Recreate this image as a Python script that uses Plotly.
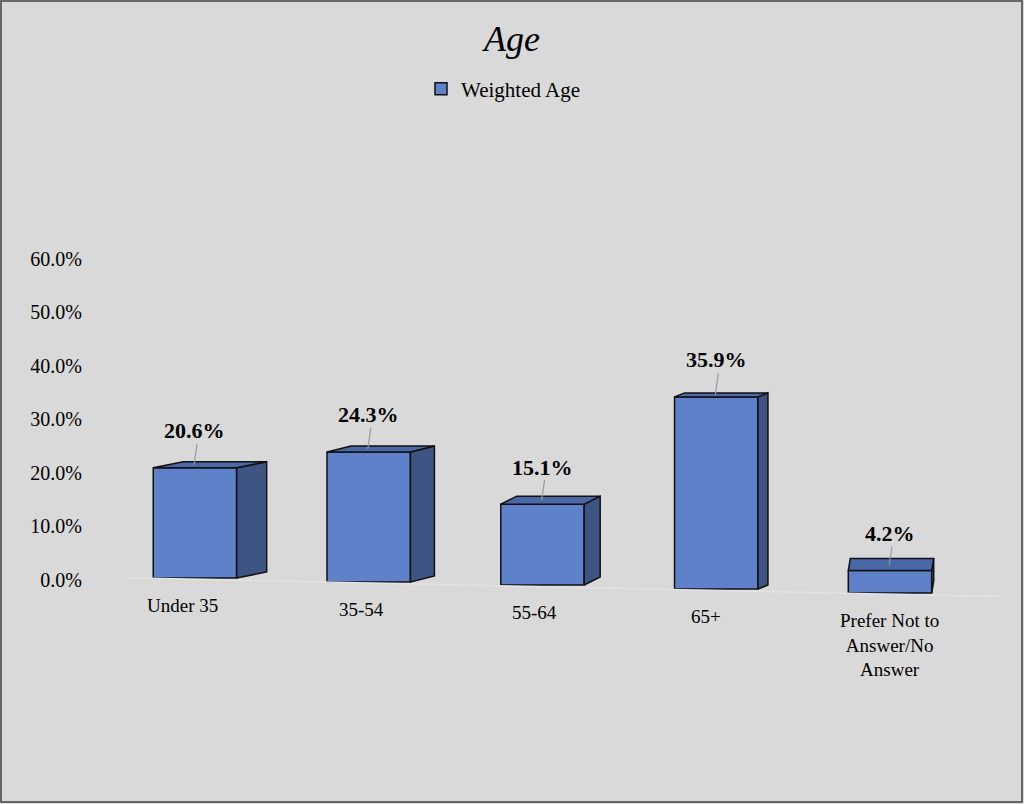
import plotly.graph_objects as go

# ---- data ----
categories = ["Under 35", "35-54", "55-64", "65+", "Prefer Not to<br>Answer/No<br>Answer"]
values = [20.6, 24.3, 15.1, 35.9, 4.2]
series_name = "Weighted Age"
y_ticks = [0, 10, 20, 30, 40, 50, 60]

# ---- style (perspective look) ----
PX_X = 173.75   # px per x unit
PX_Y = 5.35     # px per y unit
bar_w = 0.48
side_dx_px = [30, 24, 16, 10, 2]
top_dy_px = [6, 6, 8, 4, 12]
base_px = [2, -2, -5, -9, -13]   # floor drift in px
label_xshift = [-12, -7, -8, -10, -1]
FRONT = "#5f81c9"
SIDE = "#3e5482"
TOP = "#4a67a6"
FONT = "Liberation Serif"

fig = go.Figure()

# floor line
fig.add_trace(go.Scatter(x=[-0.38, 4.63], y=[0.4, -3.1], mode="lines",
                         line=dict(color="#e3e3e3", width=1.5),
                         showlegend=False, hoverinfo="skip"))

xs = list(range(len(categories)))
bases = [b / PX_Y for b in base_px]

for i, v in enumerate(values):
    x0 = xs[i] - bar_w / 2
    x1 = xs[i] + bar_w / 2
    y0 = bases[i]
    y1 = bases[i] + v
    dx = side_dx_px[i] / PX_X
    dy = top_dy_px[i] / PX_Y
    fig.add_trace(go.Scatter(x=[x1, x1 + dx, x1 + dx, x1, x1],
                             y=[y0, y0 + dy, y1 + dy, y1, y0],
                             fill="toself", fillcolor=SIDE, mode="lines",
                             line=dict(color="#111111", width=1.5),
                             showlegend=False, hoverinfo="skip"))
    fig.add_trace(go.Scatter(x=[x0, x1, x1 + dx, x0 + dx, x0],
                             y=[y1, y1, y1 + dy, y1 + dy, y1],
                             fill="toself", fillcolor=TOP, mode="lines",
                             line=dict(color="#111111", width=1.5),
                             showlegend=False, hoverinfo="skip"))

fig.add_trace(go.Bar(x=xs, y=values, base=bases, width=bar_w, name=series_name,
                     marker=dict(color=FRONT, line=dict(color="#111111", width=1.5)),
                     showlegend=True))

for i, v in enumerate(values):
    top = bases[i] + v
    dyh = top_dy_px[i] / PX_Y / 2
    fig.add_trace(go.Scatter(x=[xs[i] - 0.005, xs[i] + 0.012],
                             y=[top + dyh, top + 24 / PX_Y],
                             mode="lines", line=dict(color="#9a9a9a", width=1.2),
                             showlegend=False, hoverinfo="skip"))
    fig.add_annotation(x=xs[i], y=top, text="<b>%.1f%%</b>" % v, showarrow=False,
                       yshift=37, font=dict(family=FONT, size=22, color="#000000"))
    fig.add_annotation(x=xs[i], y=bases[i], text=categories[i], showarrow=False,
                       yanchor="top", yshift=-15, xshift=label_xshift[i],
                       font=dict(family=FONT, size=19, color="#000000"))

fig.update_layout(
    width=1024, height=804,
    paper_bgcolor="#d9d9d9", plot_bgcolor="#d9d9d9",
    margin=dict(l=90, r=24, t=100, b=204),
    title=dict(text="<i>Age</i>", x=0.5, xanchor="center", y=1 - 38 / 804, yanchor="middle",
               font=dict(family=FONT, size=36, color="#000000")),
    legend=dict(orientation="h", x=(421 - 90) / 910, xanchor="left", y=1.022, yanchor="middle",
                font=dict(family=FONT, size=21, color="#000000"), bgcolor="rgba(0,0,0,0)"),
    font=dict(family=FONT, size=19, color="#000000"),
    xaxis=dict(range=[-0.604, 4.633], showticklabels=False, showgrid=False,
               zeroline=False, showline=False, ticks=""),
    yaxis=dict(range=[-3.74, 89.7], tickvals=y_ticks,
               ticktext=["%.1f%%" % t for t in y_ticks], showgrid=False,
               zeroline=False, showline=False, ticks="", tickfont=dict(size=20),
               ticklabelstandoff=7),
    shapes=[dict(type="rect", xref="paper", yref="paper",
                 x0=(1 - 90) / 910, x1=(1022 - 90) / 910,
                 y0=(600 - 802) / 500, y1=(600 - 1) / 500,
                 line=dict(color="#404040", width=1.5), fillcolor="rgba(0,0,0,0)")],
)

fig.write_html("out.html", config={"displayModeBar": False},
               post_script="document.body.style.margin='0';window.dispatchEvent(new Event('resize'));")
